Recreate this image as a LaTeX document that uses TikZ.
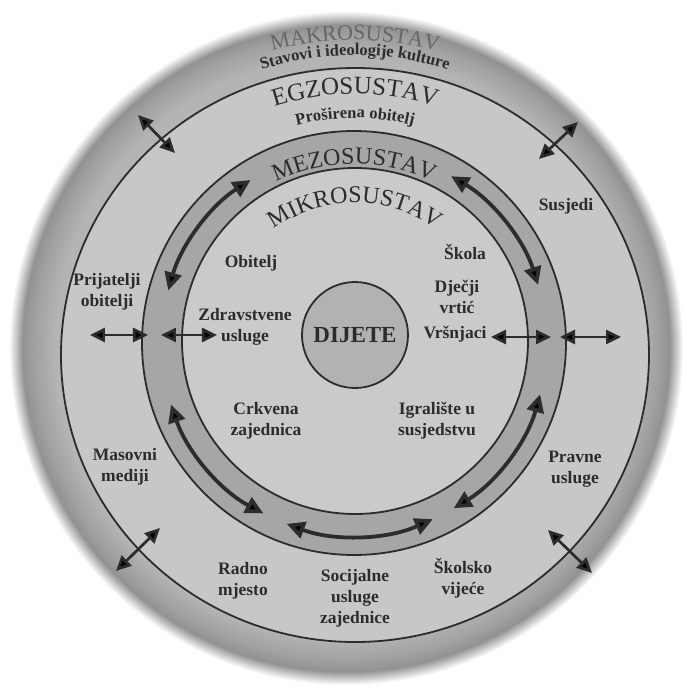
\documentclass[tikz,border=0pt]{standalone}
\usepackage{fontspec}
\setmainfont{Liberation Serif}
\usetikzlibrary{arrows.meta,decorations.text}
\definecolor{mgA}{HTML}{B4B4B4}
\definecolor{mgB}{HTML}{A0A0A0}
\definecolor{mgC}{HTML}{929292}
\definecolor{exofill}{HTML}{C7C7C7}
\definecolor{mesofill}{HTML}{A6A6A6}
\definecolor{mikrofill}{HTML}{CACACA}
\definecolor{childfill}{HTML}{B2B2B2}
\definecolor{ink}{HTML}{2C2C2C}
\definecolor{faint}{HTML}{666666}
\pgfdeclareradialshading{macroshade}{\pgfpoint{0bp}{0bp}}{color(0bp)=(mgA); color(21.6bp)=(mgA); color(23.2bp)=(mgB); color(24bp)=(mgC); color(25bp)=(white); color(50bp)=(white)}
\newcommand\titlefont{\fontsize{24}{24}\selectfont}
\newcommand\subfont{\bfseries\fontsize{16.5}{16.5}\selectfont}
\begin{document}
\begin{tikzpicture}[x=1pt,y=1pt,
  ringline/.style={draw=ink, line width=1.8pt},
  lab/.style={font=\bfseries\fontsize{17.5}{21}\selectfont, align=center, text=ink, inner sep=0pt},
  strarrow/.style={draw=ink, line width=2.7pt, arrows={Triangle[length=15pt,width=14pt]-Triangle[length=15pt,width=14pt]}},
  ringarrow/.style={draw=ink, line width=3.8pt, arrows={Triangle[length=18pt,width=17pt]-Triangle[length=18pt,width=17pt]}}]
\useasboundingbox (-355,-349) rectangle (331,345);
\fill[white] (-355,-349) rectangle (331,345);
% centres
\coordinate (macroc) at (-9,-3);
\coordinate (exoc) at (0,-10);
\coordinate (mesoc) at (-1,2);
\coordinate (mikroc) at (0,4);
% macro disk with vignette
\shade[shading=macroshade] (macroc) circle[radius=337pt];
% exo
\path[ringline, fill=exofill] (exoc) ellipse[x radius=294pt, y radius=287pt];
% meso ring
\path[ringline, fill=mesofill] (mesoc) circle[radius=212pt];
\path[ringline, fill=mikrofill] (mikroc) circle[radius=173pt];
% child
\node[circle, draw=ink, line width=1.8pt, fill=childfill, minimum size=106pt, inner sep=0pt,
  font=\bfseries\fontsize{23}{23}\selectfont, text=ink] (dijete) at (0,10) {DIJETE};
% curved titles
\path[decorate, decoration={text along path, text align=center, text color=faint,
  text={|\fontsize{22}{22}\selectfont|MAKROSUSTAV}}]
  ([shift={(120:315pt)}]exoc) arc[start angle=120, end angle=60, radius=315pt];
\path[decorate, decoration={text along path, text align=center, text color=ink,
  text={|\subfont|Stavovi i ideologije kulture}}]
  ([shift={(125:300pt)}]exoc) arc[start angle=125, end angle=55, radius=300pt];
\path[decorate, decoration={text along path, text align=center, text color=ink,
  text={|\fontsize{25}{25}\selectfont|EGZOSUSTAV}}]
  ([shift={(130:261pt)}]exoc) arc[start angle=130, end angle=50, radius=261pt];
\path[decorate, decoration={text along path, text align=center, text color=ink,
  text={|\subfont|Proširena obitelj}}]
  ([shift={(130:237pt)}]exoc) arc[start angle=130, end angle=50, radius=237pt];
\path[decorate, decoration={text along path, text align=center, text color=ink,
  text={|\titlefont|MEZOSUSTAV}}]
  ([shift={(140:179pt)}]mesoc) arc[start angle=140, end angle=40, radius=179pt];
\path[decorate, decoration={text along path, text align=center, text color=ink,
  text={|\titlefont|MIKROSUSTAV}}]
  ([shift={(150:138pt)}]mikroc) arc[start angle=150, end angle=30, radius=138pt];
% micro labels
\node[lab] (obitelj) at (-104,82) {Obitelj};
\node[lab] (skola) at (110,93) {Škola};
\node[lab] (vrtic) at (102,48) {Dječji\\vrtić};
\node[lab] (zdrav) at (-110,18) {Zdravstvene\\usluge};
\node[lab] (vrsnjaci) at (100,11) {Vršnjaci};
\node[lab] (crkva) at (-89,-76) {Crkvena\\zajednica};
\node[lab] (igral) at (82,-76) {Igralište u\\susjedstvu};
% exo labels
\node[lab] (prij) at (-248,53) {Prijatelji\\obitelji};
\node[lab] (susjedi) at (211,139) {Susjedi};
\node[lab] (mediji) at (-230,-122) {Masovni\\mediji};
\node[lab] (pravne) at (220,-124) {Pravne\\usluge};
\node[lab] (radno) at (-112,-236) {Radno\\mjesto};
\node[lab] (socij) at (0,-253) {Socijalne\\usluge\\zajednice};
\node[lab] (skvij) at (108,-233) {Školsko\\vijeće};
% straight arrow end points
\coordinate (ula) at (-217,230); \coordinate (ulb) at (-180,192);
\coordinate (ura) at (223,223);  \coordinate (urb) at (184,186);
\coordinate (lla) at (-195,-183); \coordinate (llb) at (-239,-226);
\coordinate (lra) at (193,-185); \coordinate (lrb) at (237,-228);
\coordinate (loa) at (-265,10); \coordinate (lob) at (-207,10);
\coordinate (lia) at (-194,10); \coordinate (lib) at (-138,10);
\coordinate (ria) at (136,8); \coordinate (rib) at (196,8);
\coordinate (roa) at (205,8); \coordinate (rob) at (266,8);
\draw[strarrow] (ula) -- (ulb);
\draw[strarrow] (ura) -- (urb);
\draw[strarrow] (lla) -- (llb);
\draw[strarrow] (lra) -- (lrb);
\draw[strarrow] (loa) -- (lob);
\draw[strarrow] (lia) -- (lib);
\draw[strarrow] (ria) -- (rib);
\draw[strarrow] (roa) -- (rob);
% ring arrows
\draw[ringarrow] ([shift={(122.4:193pt)}]mesoc) arc[start angle=122.4, end angle=164.2, radius=193pt];
\draw[ringarrow] ([shift={(59.8:193pt)}]mesoc) arc[start angle=59.8, end angle=17.5, radius=193pt];
\draw[ringarrow] ([shift={(198.6:193pt)}]mesoc) arc[start angle=198.6, end angle=242, radius=193pt];
\draw[ringarrow] ([shift={(-15.4:193pt)}]mesoc) arc[start angle=-15.4, end angle=-58.9, radius=193pt];
\draw[ringarrow] ([shift={(249.6:193pt)}]mesoc) arc[start angle=249.6, end angle=294.1, radius=193pt];
\end{tikzpicture}
\end{document}
